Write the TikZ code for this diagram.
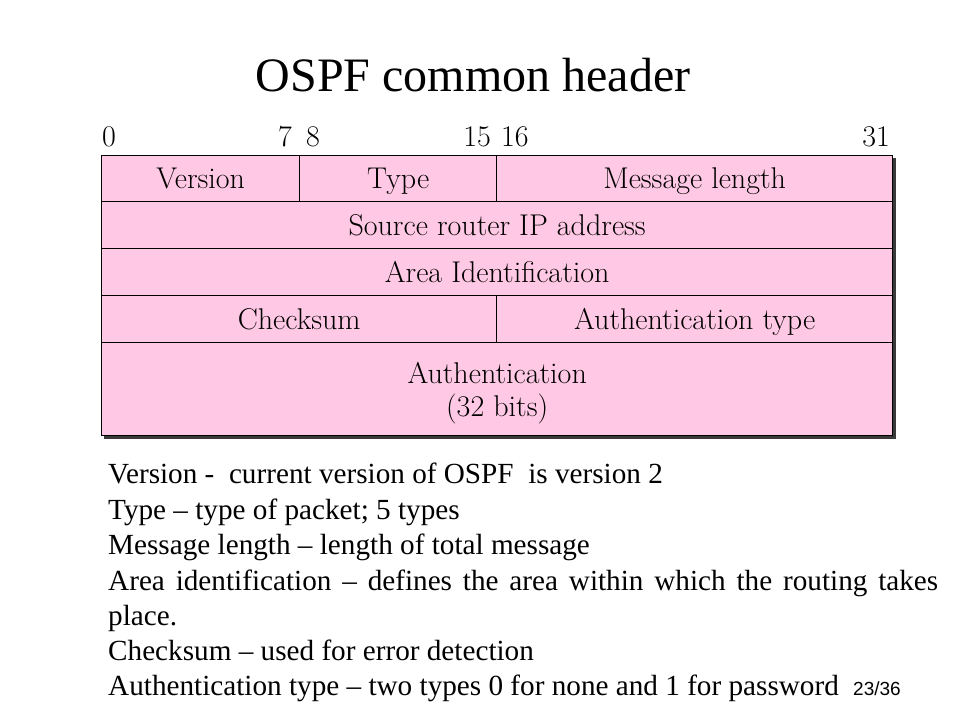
\documentclass[tikz,border=0pt]{standalone}
\usepackage{fontspec}
\newfontfamily\timesf{Liberation Serif}
\newfontfamily\arialf{Liberation Sans}
\definecolor{cellpink}{RGB}{255,200,228}
\definecolor{shadowgray}{RGB}{58,58,58}
\begin{document}
\begin{tikzpicture}[x=1pt,y=-1pt,
  cell/.style={draw=black, line width=1.3pt, fill=cellpink, rectangle, inner sep=0pt,
    anchor=north west},
  label/.style={inner sep=0pt, anchor=base, font=\fontsize{30}{33}\selectfont},
  bitnum/.style={inner sep=0pt, font=\fontsize{30}{33}\selectfont},
  note/.style={inner sep=0pt, anchor=base west, font=\timesf\fontsize{29.2}{34}\selectfont}]
\useasboundingbox (0,0) rectangle (960,720);
\fill[white] (0,0) rectangle (960,720);
% title
\node[anchor=base, inner sep=0pt, font=\timesf\fontsize{48}{52}\selectfont] (title) at (473,91) {OSPF common header};
% bit numbers
\node[bitnum, anchor=base west] (b0) at (102,146) {0};
\node[bitnum, anchor=base east] (b7) at (292,146) {7};
\node[bitnum, anchor=base west] (b8) at (306,146) {8};
\node[bitnum, anchor=base east] (b15) at (491,146) {15};
\node[bitnum, anchor=base west] (b16) at (501,146) {16};
\node[bitnum, anchor=base east] (b31) at (890,146) {31};
% shadow
\fill[shadowgray] (104,158) rectangle (896,439);
% cells
\node[cell, minimum width=198pt, minimum height=46pt] (version) at (101,155) {};
\node[cell, minimum width=197pt, minimum height=46pt] (type) at (299,155) {};
\node[cell, minimum width=396pt, minimum height=46pt] (msglen) at (496,155) {};
\node[cell, minimum width=791pt, minimum height=47pt] (srcip) at (101,201) {};
\node[cell, minimum width=791pt, minimum height=47pt] (area) at (101,248) {};
\node[cell, minimum width=395pt, minimum height=47pt] (checksum) at (101,295) {};
\node[cell, minimum width=396pt, minimum height=47pt] (authtype) at (496,295) {};
\node[cell, minimum width=791pt, minimum height=93pt] (auth) at (101,342) {};
% cell labels
\node[label] (lversion) at ([yshift=-10pt]version.center) {Version};
\node[label] (ltype) at ([yshift=-10pt]type.center) {Type};
\node[label] (lmsglen) at ([yshift=-10pt]msglen.center) {Message length};
\node[label] (lsrcip) at ([yshift=-10pt]srcip.center) {Source router IP address};
\node[label] (larea) at ([yshift=-10pt]area.center) {Area Identification};
\node[label] (lchecksum) at ([yshift=-10pt]checksum.center) {Checksum};
\node[label] (lauthtype) at ([yshift=-10pt]authtype.center) {Authentication type};
\node[label] (lauth1) at ([yshift=5.5pt]auth.center) {Authentication};
\node[label] (lauth2) at ([yshift=-27.5pt]auth.center) {(32 bits)};
% notes
\node[note] (n1) at (108,483) {Version -\ \ current version of OSPF\ \ is version 2};
\node[note] (n2) at (108,519) {Type – type of packet; 5 types};
\node[note] (n3) at (108,554) {Message length – length of total message};
\node[note] (n4) at (108,590) {\makebox[830pt][s]{Area identification – defines the area within which the routing takes}};
\node[note] (n5) at (108,625) {place.};
\node[note] (n6) at (108,660) {Checksum – used for error detection};
\node[note] (n7) at (108,695) {Authentication type – two types 0 for none and 1 for password};
\node[anchor=base west, inner sep=0pt, font=\arialf\fontsize{19}{22}\selectfont] (page) at (853,695) {23/36};
\end{tikzpicture}
\end{document}
